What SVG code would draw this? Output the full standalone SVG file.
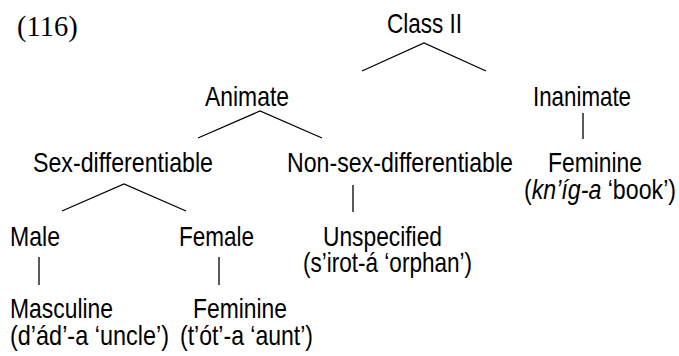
<svg xmlns="http://www.w3.org/2000/svg" width="679" height="356" viewBox="0 0 679 356">
<style>
text{font-family:"Liberation Sans",Arial,sans-serif;font-size:28px;fill:#000}
.num{font-family:"Liberation Serif","Times New Roman",serif;font-size:28.5px}
.edge{stroke:#000;stroke-width:1.3;fill:none}
</style>
<rect width="679" height="356" fill="#fff"/>
<text class="num" x="17" y="36">(116)</text>
<g id="n-class2"><text x="387" y="33" textLength="75" lengthAdjust="spacingAndGlyphs">Class II</text></g>
<g id="n-animate"><text x="205" y="106" textLength="84" lengthAdjust="spacingAndGlyphs">Animate</text></g>
<g id="n-inanimate"><text x="533" y="106" textLength="98" lengthAdjust="spacingAndGlyphs">Inanimate</text></g>
<g id="n-sexdiff"><text x="33" y="172" textLength="180" lengthAdjust="spacingAndGlyphs">Sex-differentiable</text></g>
<g id="n-nonsexdiff"><text x="287" y="172" textLength="226" lengthAdjust="spacingAndGlyphs">Non-sex-differentiable</text></g>
<g id="n-fem-inan"><text x="548" y="172" textLength="94" lengthAdjust="spacingAndGlyphs">Feminine</text><text x="524" y="199" textLength="152" lengthAdjust="spacingAndGlyphs">(<tspan font-style="italic">kn’íg-a</tspan> ‘book’)</text></g>
<g id="n-male"><text x="10" y="246" textLength="50" lengthAdjust="spacingAndGlyphs">Male</text></g>
<g id="n-female"><text x="179" y="246" textLength="75" lengthAdjust="spacingAndGlyphs">Female</text></g>
<g id="n-unspec"><text x="323" y="246" textLength="119" lengthAdjust="spacingAndGlyphs">Unspecified</text><text x="303" y="272" textLength="169" lengthAdjust="spacingAndGlyphs">(s’irot-á ‘orphan’)</text></g>
<g id="n-masc"><text x="10" y="318" textLength="103" lengthAdjust="spacingAndGlyphs">Masculine</text><text x="10" y="345" textLength="159" lengthAdjust="spacingAndGlyphs">(d’ád’-a ‘uncle’)</text></g>
<g id="n-fem-anim"><text x="193" y="318" textLength="94" lengthAdjust="spacingAndGlyphs">Feminine</text><text x="180" y="345" textLength="133" lengthAdjust="spacingAndGlyphs">(t’ót’-a ‘aunt’)</text></g>
<g id="connectors" class="edge">
<polyline points="362,71 424,43 486,71"/>
<polyline points="198,138 260,111 322,138"/>
<line x1="583" y1="113" x2="583" y2="139"/>
<polyline points="62,211 124,184 186,211"/>
<line x1="353" y1="185" x2="353" y2="212"/>
<line x1="39" y1="257" x2="39" y2="285"/>
<line x1="219" y1="257" x2="219" y2="285"/>
</g>
</svg>
